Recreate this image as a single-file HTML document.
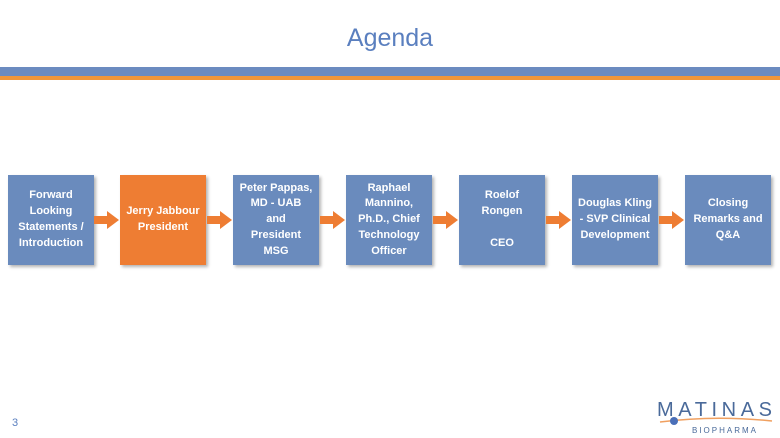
<!DOCTYPE html>
<html><head><meta charset="utf-8"><style>
*{margin:0;padding:0}
body{width:780px;height:438px;background:#fff;position:relative;overflow:hidden;font-family:"Liberation Sans",sans-serif}
.title{position:absolute;top:24px;left:0;width:780px;text-align:center;color:#5a7fbf;font-size:25px}
.b1{position:absolute;left:0;top:67px;width:780px;height:9px;background:#6b8bc0}
.b2{position:absolute;left:0;top:76px;width:780px;height:4px;background:#f0963a}
.box{position:absolute;top:175px;width:86px;height:90px;background:#6a8bbd;color:#fff;font-weight:bold;font-size:11px;line-height:15.8px;text-align:center;display:flex;align-items:center;justify-content:center;box-shadow:2px 2px 3px rgba(0,0,0,.3)}
.or{background:#ee7d33}
.num{position:absolute;left:12px;top:417px;font-size:11px;color:#5a7fbf}
</style></head><body>
<div class="title">Agenda</div>
<div class="b1"></div><div class="b2"></div>
<div class="box" style="left:8px">Forward<br>Looking<br>Statements /<br>Introduction</div>
<div class="box or" style="left:120px">Jerry Jabbour<br>President</div>
<div class="box" style="left:233px">Peter Pappas,<br>MD - UAB<br>and<br>President<br>MSG</div>
<div class="box" style="left:346px">Raphael<br>Mannino,<br>Ph.D., Chief<br>Technology<br>Officer</div>
<div class="box" style="left:459px">Roelof<br>Rongen<br><br>CEO</div>
<div class="box" style="left:572px">Douglas Kling<br>- SVP Clinical<br>Development</div>
<div class="box" style="left:685px">Closing<br>Remarks and<br>Q&amp;A</div>
<svg width="780" height="438" style="position:absolute;left:0;top:0">
<g fill="#ee7d33">
<polygon points="94,216 107,216 107,211 119,220 107,229 107,224 94,224"/>
<polygon points="207,216 220,216 220,211 232,220 220,229 220,224 207,224"/>
<polygon points="320,216 333,216 333,211 345,220 333,229 333,224 320,224"/>
<polygon points="433,216 446,216 446,211 458,220 446,229 446,224 433,224"/>
<polygon points="546,216 559,216 559,211 571,220 559,229 559,224 546,224"/>
<polygon points="659,216 672,216 672,211 684,220 672,229 672,224 659,224"/>
</g>
<path d="M660,422 Q715,415 772,421" stroke="#f0a060" stroke-width="1.5" fill="none"/>
<circle cx="674" cy="421" r="4" fill="#4a6fb8"/>
<text x="716" y="416" text-anchor="middle" font-family="Liberation Sans" font-size="20" fill="#4a6a9a" letter-spacing="3" textLength="118">MATINAS</text>
<text x="725" y="433" text-anchor="middle" font-family="Liberation Sans" font-size="8" fill="#4a6a9a" letter-spacing="2">BIOPHARMA</text>
</svg>
<div class="num">3</div>
</body></html>
